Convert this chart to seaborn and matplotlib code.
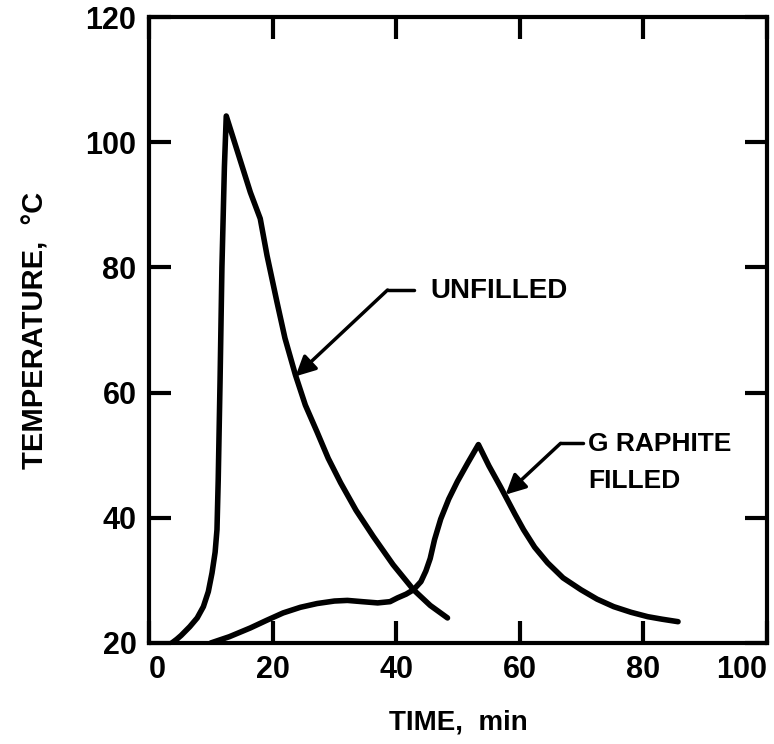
import numpy as np
import pandas as pd
import seaborn as sns
import matplotlib.pyplot as plt

# curve readings (time in min, temperature in C)
unfilled_time = [3.0, 3.7, 4.5, 5.2, 6.6, 7.8, 8.8, 9.6, 10.2, 10.7, 11.0, 11.2, 11.35, 11.5,
                 11.8, 12.2, 12.5, 16.4, 18.0, 19.1, 20.7, 22.0, 23.7, 25.3, 27.2, 29.0,
                 31.0, 33.5, 36.3, 39.5, 42.8, 45.5, 48.3]
unfilled_temp = [19.6, 20.0, 20.6, 21.2, 22.6, 24.0, 25.8, 28.2, 31.2, 34.5, 38.1, 46.0, 54.0, 62.0,
                 80.0, 96.0, 104.2, 92.0, 87.8, 81.9, 74.5, 68.7, 62.8, 58.0, 53.7, 49.5,
                 45.6, 41.2, 37.0, 32.5, 28.5, 26.0, 24.0]

graphite_time = [10.0, 13.0, 16.4, 19.0, 21.7, 24.5, 27.2, 30.0, 32.1, 34.5, 37.0, 39.0,
                 40.2, 41.6, 42.8, 44.0, 44.8, 45.5, 46.2, 47.2, 48.5, 49.9, 51.6, 53.3,
                 55.0, 56.9, 59.2, 60.6, 62.4, 64.5, 67.0, 69.9, 72.5, 75.2, 78.0, 80.7,
                 83.0, 85.6]
graphite_temp = [20.0, 21.0, 22.4, 23.6, 24.8, 25.7, 26.3, 26.7, 26.8, 26.6, 26.4, 26.6,
                 27.2, 27.8, 28.5, 29.8, 31.5, 33.5, 36.5, 39.8, 43.0, 45.8, 48.8, 51.7,
                 48.3, 44.9, 40.6, 38.1, 35.3, 32.8, 30.4, 28.5, 27.0, 25.8, 24.9, 24.2,
                 23.8, 23.4]

x_ticks = [0, 20, 40, 60, 80, 100]
y_ticks = [20, 40, 60, 80, 100, 120]

sns.set_style('ticks')
plt.rcParams['font.family'] = ['Liberation Sans', 'DejaVu Sans']
plt.rcParams['font.weight'] = 'bold'
for key in ['text.color', 'axes.labelcolor', 'xtick.color', 'ytick.color', 'axes.edgecolor']:
    plt.rcParams[key] = 'black'

unfilled = pd.DataFrame({'time': unfilled_time, 'temp': unfilled_temp})
graphite = pd.DataFrame({'time': graphite_time, 'temp': graphite_temp})

fig = plt.figure(figsize=(7.74, 7.44), dpi=100)
ax = fig.add_axes([0.1925, 0.1358, 0.7985, 0.8412])

sns.lineplot(data=unfilled, x='time', y='temp', ax=ax, color='black',
             linewidth=4, estimator=None, sort=False, clip_on=True)
sns.lineplot(data=graphite, x='time', y='temp', ax=ax, color='black',
             linewidth=4, estimator=None, sort=False)
for ln in ax.lines:
    ln.set_solid_joinstyle('round')
    ln.set_solid_capstyle('round')

ax.set_xlim(0, 100)
ax.set_ylim(20, 120)
ax.set_xticks(x_ticks)
ax.set_yticks(y_ticks)
ax.tick_params(direction='in', length=16, width=3, top=True, right=True,
               labelsize=22, pad=9, colors='black')
for lab in ax.get_xticklabels() + ax.get_yticklabels():
    lab.set_fontweight('bold')
xl = ax.get_xticklabels()
xl[0].set_horizontalalignment('left')
xl[-1].set_horizontalalignment('right')
for sp in ax.spines.values():
    sp.set_linewidth(3)
    sp.set_color('black')
    sp.set_visible(True)

ax.set_xlabel('TIME,  min', fontsize=20, fontweight='bold', labelpad=17)
ax.set_ylabel('TEMPERATURE,  °C', fontsize=21, fontweight='bold', labelpad=26)

# callouts
arrow = dict(arrowstyle='-|>', color='black', lw=2.5, mutation_scale=30,
             shrinkA=0, shrinkB=0)
ax.plot([38.6, 42.8], [76.4, 76.4], color='black', lw=2.5)
ax.annotate('', xy=(23.7, 62.6), xytext=(38.6, 76.4), arrowprops=arrow)
ax.text(45.5, 76.2, 'UNFILLED', fontsize=20, fontweight='bold', va='center', ha='left')

ax.plot([66.6, 70.3], [51.9, 51.9], color='black', lw=2.5)
ax.annotate('', xy=(57.7, 43.7), xytext=(66.6, 51.9), arrowprops=arrow)
ax.text(71.1, 51.8, 'G RAPHITE', fontsize=19, fontweight='bold', va='center', ha='left')
ax.text(71.1, 45.9, 'FILLED', fontsize=19, fontweight='bold', va='center', ha='left')

fig.savefig('out.png', dpi=100)
